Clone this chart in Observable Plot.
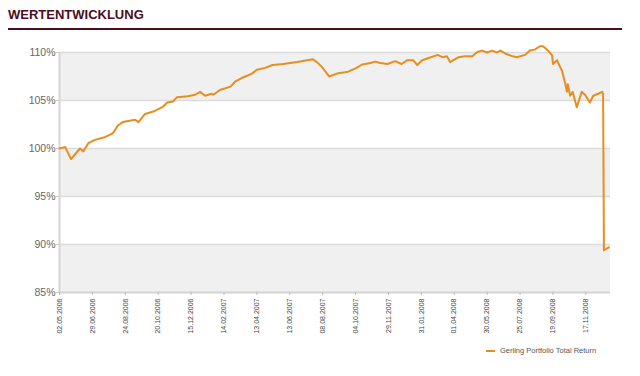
<!DOCTYPE html>
<html>
<head>
<meta charset="utf-8">
<script src="https://cdn.jsdelivr.net/npm/d3@7"></script>
<script src="https://cdn.jsdelivr.net/npm/@observablehq/plot@0.6"></script>
<style>
  html, body { margin: 0; padding: 0; background: #fff; }
  #wrap { position: relative; width: 640px; height: 376px; overflow: hidden; font-family: "Liberation Sans", Arial, sans-serif; }
  #title { position: absolute; left: 8px; top: 7px; font-size: 13px; font-weight: bold; color: #4d0d1c; letter-spacing: 0px; }
  #rule { position: absolute; left: 8px; top: 28px; width: 614px; height: 2px; background: #4d0d1c; }
  #chart { position: absolute; left: 0; top: 0; }
  #legend { position: absolute; left: 486px; top: 346px; font-size: 7.5px; color: #555; display: flex; align-items: center; }
  #legend .sw { width: 9px; height: 2px; background: #e88e1e; margin-right: 5px; }
</style>
</head>
<body>
<div id="wrap">
  <div id="chart"></div>
  <div id="title">WERTENTWICKLUNG</div>
  <div id="rule"></div>
  <div id="legend"><span class="sw"></span><span id="legendText"></span></div>
</div>
<script>
// Trading-day index of each reading and its value (% of start)
const dayIndex = [0, 7, 10, 14, 19, 25, 29, 35, 43, 56, 65, 71, 77, 92, 96, 104, 114, 125, 131, 138, 143, 156, 165, 171, 177, 185, 187, 195, 208, 214, 223, 234, 240, 250, 259, 272, 289, 301, 308, 313, 319, 328, 339, 351, 360, 368, 378, 384, 390, 399, 408, 416, 423, 430, 435, 441, 448, 460, 466, 471, 475, 479, 485, 493, 502, 508, 514, 520, 526, 532, 536, 542, 551, 556, 566, 572, 578, 584, 588, 594, 599, 600, 605, 607, 611, 615, 617, 618, 621, 624, 629, 635, 639, 645, 649, 655, 660, 661, 662, 668];
const portfolioValue = [100.0, 100.15, 99.6, 98.9, 99.4, 100.0, 99.7, 100.55, 100.9, 101.2, 101.6, 102.4, 102.75, 103.0, 102.75, 103.6, 103.85, 104.3, 104.8, 104.9, 105.35, 105.45, 105.6, 105.9, 105.5, 105.7, 105.6, 106.1, 106.45, 107.0, 107.4, 107.8, 108.2, 108.4, 108.7, 108.8, 109.0, 109.2, 109.3, 109.0, 108.5, 107.5, 107.85, 108.0, 108.35, 108.75, 108.9, 109.05, 108.9, 108.8, 109.1, 108.8, 109.2, 109.2, 108.7, 109.2, 109.4, 109.75, 109.5, 109.6, 109.0, 109.2, 109.5, 109.6, 109.6, 110.05, 110.2, 110.0, 110.2, 110.0, 110.2, 109.9, 109.6, 109.5, 109.75, 110.2, 110.3, 110.65, 110.65, 110.2, 109.7, 108.8, 109.2, 108.8, 108.1, 106.75, 105.9, 106.7, 105.5, 105.9, 104.3, 105.9, 105.6, 104.8, 105.5, 105.7, 105.9, 105.7, 89.4, 89.7];

const xTickIndex = [0, 40, 80, 120, 160, 200, 240, 280, 320, 360, 400, 440, 480, 520, 560, 600, 640];
const xTickLabels = ["02.05.2006", "29.06.2006", "24.08.2006", "20.10.2006", "15.12.2006", "14.02.2007", "13.04.2007", "13.06.2007", "08.08.2007", "04.10.2007", "29.11.2007", "31.01.2008", "01.04.2008", "30.05.2008", "25.07.2008", "19.09.2008", "17.11.2008"];
const yTicks = [85, 90, 95, 100, 105, 110];
const bandLow = [85, 95, 105];
const bandHigh = [90, 100, 110];
const seriesName = "Gerling Portfolio Total Return";

const xDomain = [0, 670];
const yDomain = [85, 110];

const data = dayIndex.map((d, i) => ({ idx: d, value: portfolioValue[i] }));
const bands = bandLow.map((lo, i) => ({ lo, hi: bandHigh[i] }));
const labelOf = new Map(xTickIndex.map((t, i) => [t, xTickLabels[i]]));

document.getElementById("legendText").textContent = seriesName;

const chart = Plot.plot({
  width: 640,
  height: 340,
  marginLeft: 59,
  marginRight: 30,
  marginTop: 52,
  marginBottom: 48,
  style: { fontFamily: "'Liberation Sans', Arial, sans-serif", background: "transparent", overflow: "visible" },
  x: { domain: xDomain },
  y: { domain: yDomain },
  marks: [
    Plot.rect(bands, { x1: () => xDomain[0], x2: () => xDomain[1], y1: "lo", y2: "hi", fill: "#f0f0f0" }),
    Plot.ruleY(yTicks.filter(t => t > yDomain[0]), { stroke: "#dcdcdc", strokeWidth: 1.5 }),
    Plot.ruleY([yDomain[0]], { stroke: "#d4d4d4", strokeWidth: 2 }),
    Plot.ruleX([xDomain[0]], { stroke: "#d4d4d4", strokeWidth: 2 }),
    Plot.axisY({ ticks: yTicks, tickFormat: d => d + "%", tickSize: 3, tickPadding: 1, fontSize: 10.5, color: "#666", stroke: "#ccc", label: null }),
    Plot.axisX({ ticks: xTickIndex, tickFormat: d => labelOf.get(d), tickRotate: -90, tickSize: 3, tickPadding: 3, fontSize: 7, color: "#444", stroke: "#bbb", label: null }),
    Plot.line(data, { x: "idx", y: "value", stroke: "#e88e1e", strokeWidth: 2, strokeLinejoin: "round", clip: false })
  ]
});
document.getElementById("chart").appendChild(chart);
</script>
</body>
</html>
